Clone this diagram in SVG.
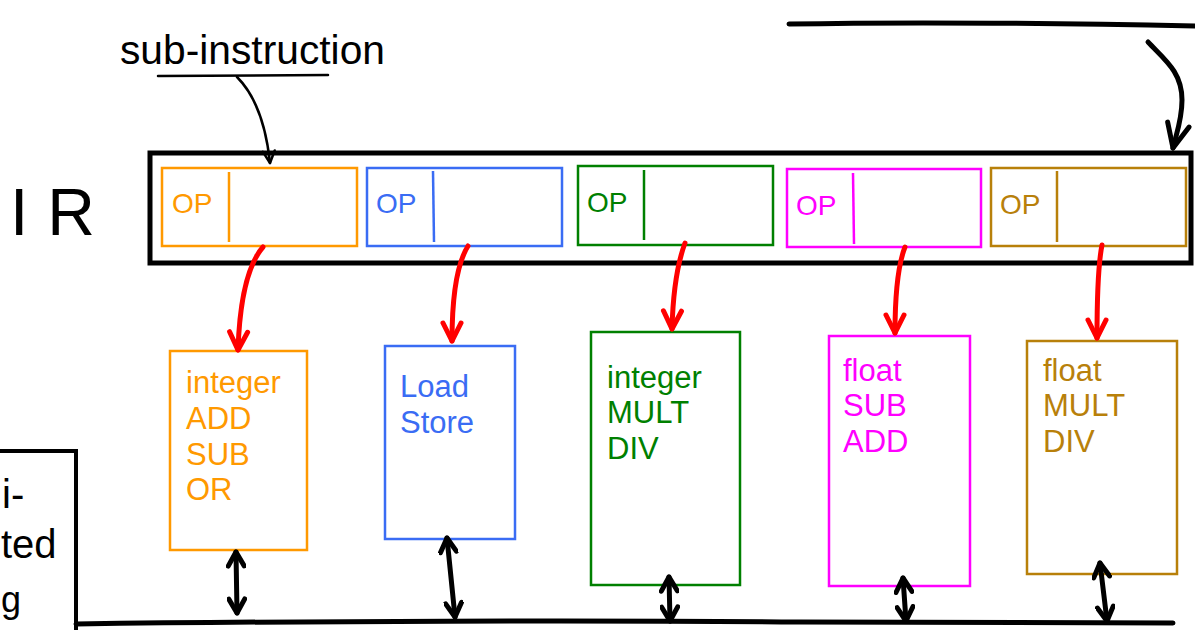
<svg xmlns="http://www.w3.org/2000/svg" width="1195" height="630" viewBox="0 0 1195 630">
<style>
.hand{font-family:"Liberation Sans",Arial,sans-serif;fill:#000}
.op{font-family:"Liberation Sans",Arial,sans-serif;font-size:28px}
.lbl{font-family:"Liberation Sans",Arial,sans-serif;font-size:31px}
.fld{fill:none;stroke-width:2.5}
.unit{fill:#fff;stroke-width:2.5}
.red{fill:none;stroke:#f00;stroke-width:5;stroke-linecap:round}
.blk{fill:none;stroke:#000;stroke-width:5;stroke-linecap:round}
.orange{stroke:#ff9900;fill:#ff9900}
.blue{stroke:#3a6cf4;fill:#3a6cf4}
.green{stroke:#008000;fill:#008000}
.magenta{stroke:#ff00ff;fill:#ff00ff}
.gold{stroke:#b8800a;fill:#b8800a}
</style>
<defs>
<marker id="rh" markerUnits="userSpaceOnUse" viewBox="0 0 24 24" refX="21" refY="12" markerWidth="24" markerHeight="24" orient="auto">
<path d="M3,3 L21,12 L3,21" fill="none" stroke="#f00" stroke-width="5" stroke-linecap="round" stroke-linejoin="round"/>
</marker>
<marker id="bh" markerUnits="userSpaceOnUse" viewBox="0 0 20 20" refX="17" refY="10" markerWidth="20" markerHeight="20" orient="auto-start-reverse">
<path d="M3,2 L17,10 L3,18" fill="none" stroke="#000" stroke-width="5" stroke-linecap="round" stroke-linejoin="round"/>
</marker>
<marker id="bt" markerUnits="userSpaceOnUse" viewBox="0 0 16 16" refX="14" refY="8" markerWidth="16" markerHeight="16" orient="auto">
<path d="M2,2 L14,8 L2,14" fill="none" stroke="#000" stroke-width="2.5" stroke-linecap="round" stroke-linejoin="round"/>
</marker>
<marker id="bb" markerUnits="userSpaceOnUse" viewBox="0 0 30 30" refX="27" refY="15" markerWidth="30" markerHeight="30" orient="auto">
<path d="M3,4 L27,15 L3,26" fill="none" stroke="#000" stroke-width="5" stroke-linecap="round" stroke-linejoin="round"/>
</marker>
</defs>
<rect width="1195" height="630" fill="#fff"/>

<g id="label-sub-instruction">
<text class="hand" x="120" y="64" font-size="40" textLength="265" lengthAdjust="spacingAndGlyphs">sub-instruction</text>
<path d="M158,76 L328,75" fill="none" stroke="#000" stroke-width="2.5" stroke-linecap="round"/>
</g>

<g id="label-IR">
<text class="hand" x="10" y="235" font-size="66" textLength="85" lengthAdjust="spacing">IR</text>
</g>

<g id="left-box">
<path d="M0,451 L76,451 L76,630" fill="none" stroke="#000" stroke-width="4"/>
<text class="hand" x="2" y="508" font-size="40">i-</text>
<text class="hand" x="1" y="558" font-size="40">ted</text>
<text class="hand" x="1" y="612" font-size="36">g</text>
</g>

<g id="top-bar">
<path d="M789,24 C900,22 1050,23 1195,26" fill="none" stroke="#000" stroke-width="5" stroke-linecap="round"/>
</g>

<g id="IR">
<rect x="150" y="153" width="1041" height="110" fill="none" stroke="#000" stroke-width="5"/>
<g id="field-1" class="orange">
<rect class="fld" x="162" y="168" width="195" height="78"/>
<line x1="229" y1="172" x2="229" y2="242" stroke-width="2.5"/>
<text class="op" x="172" y="213" stroke="none">OP</text>
</g>
<g id="field-2" class="blue">
<rect class="fld" x="367" y="168" width="195" height="78"/>
<line x1="433" y1="171" x2="434" y2="242" stroke-width="2.5"/>
<text class="op" x="376" y="213" stroke="none">OP</text>
</g>
<g id="field-3" class="green">
<rect class="fld" x="578" y="166" width="195" height="79"/>
<line x1="644" y1="170" x2="644" y2="240" stroke-width="2.5"/>
<text class="op" x="587" y="212" stroke="none">OP</text>
</g>
<g id="field-4" class="magenta">
<rect class="fld" x="787" y="169" width="194" height="78"/>
<line x1="853" y1="173" x2="854" y2="244" stroke-width="2.5"/>
<text class="op" x="796" y="215" stroke="none">OP</text>
</g>
<g id="field-5" class="gold">
<rect class="fld" x="991" y="168" width="195" height="78"/>
<line x1="1057" y1="171" x2="1057" y2="242" stroke-width="2.5"/>
<text class="op" x="1000" y="214" stroke="none">OP</text>
</g>
</g>

<g id="unit-int-alu" class="orange">
<rect class="unit" x="170" y="351" width="137" height="199"/>
<text class="lbl" x="186" y="393" stroke="none">integer</text>
<text class="lbl" x="186" y="429" stroke="none">ADD</text>
<text class="lbl" x="186" y="465" stroke="none">SUB</text>
<text class="lbl" x="186" y="500" stroke="none">OR</text>
</g>
<g id="unit-loadstore" class="blue">
<rect class="unit" x="385" y="346" width="130" height="193"/>
<text class="lbl" x="400" y="397" stroke="none">Load</text>
<text class="lbl" x="400" y="433" stroke="none">Store</text>
</g>
<g id="unit-int-mult" class="green">
<rect class="unit" x="591" y="332" width="149" height="253"/>
<text class="lbl" x="607" y="388" stroke="none">integer</text>
<text class="lbl" x="607" y="423" stroke="none">MULT</text>
<text class="lbl" x="607" y="459" stroke="none">DIV</text>
</g>
<g id="unit-float-add" class="magenta">
<rect class="unit" x="829" y="336" width="141" height="250"/>
<text class="lbl" x="843" y="381" stroke="none">float</text>
<text class="lbl" x="843" y="416" stroke="none">SUB</text>
<text class="lbl" x="843" y="452" stroke="none">ADD</text>
</g>
<g id="unit-float-mult" class="gold">
<rect class="unit" x="1027" y="341" width="150" height="233"/>
<text class="lbl" x="1043" y="381" stroke="none">float</text>
<text class="lbl" x="1043" y="416" stroke="none">MULT</text>
<text class="lbl" x="1043" y="452" stroke="none">DIV</text>
</g>

<g id="bus">
<path d="M76,624 C300,621 600,620 800,622 C950,623 1100,623 1173,623" fill="none" stroke="#000" stroke-width="5" stroke-linecap="round"/>
</g>

<g id="connectors">
<path class="blk" style="stroke-width:2.5" d="M237,77 C255,95 266,125 270,163" marker-end="url(#bt)"/>
<path class="blk" d="M1148,42 C1165,60 1182,72 1182,100 C1182,120 1176,135 1173,148" marker-end="url(#bb)"/>
<path class="red" d="M263,247 C250,262 240,290 238,350" marker-end="url(#rh)"/>
<path class="red" d="M468,246 C458,262 452,290 452,341" marker-end="url(#rh)"/>
<path class="red" d="M685,243 C678,262 673,290 672,329" marker-end="url(#rh)"/>
<path class="red" d="M905,247 C898,265 895,295 895,333" marker-end="url(#rh)"/>
<path class="red" d="M1102,245 C1098,265 1097,295 1097,338" marker-end="url(#rh)"/>
<path class="blk" d="M236,552 L237,613" marker-start="url(#bh)" marker-end="url(#bh)"/>
<path class="blk" d="M447,538 L455,617" marker-start="url(#bh)" marker-end="url(#bh)"/>
<path class="blk" d="M669,577 L670,621" marker-start="url(#bh)" marker-end="url(#bh)"/>
<path class="blk" d="M903,578 L906,621" marker-start="url(#bh)" marker-end="url(#bh)"/>
<path class="blk" d="M1100,563 L1107,621" marker-start="url(#bh)" marker-end="url(#bh)"/>
</g>
</svg>
